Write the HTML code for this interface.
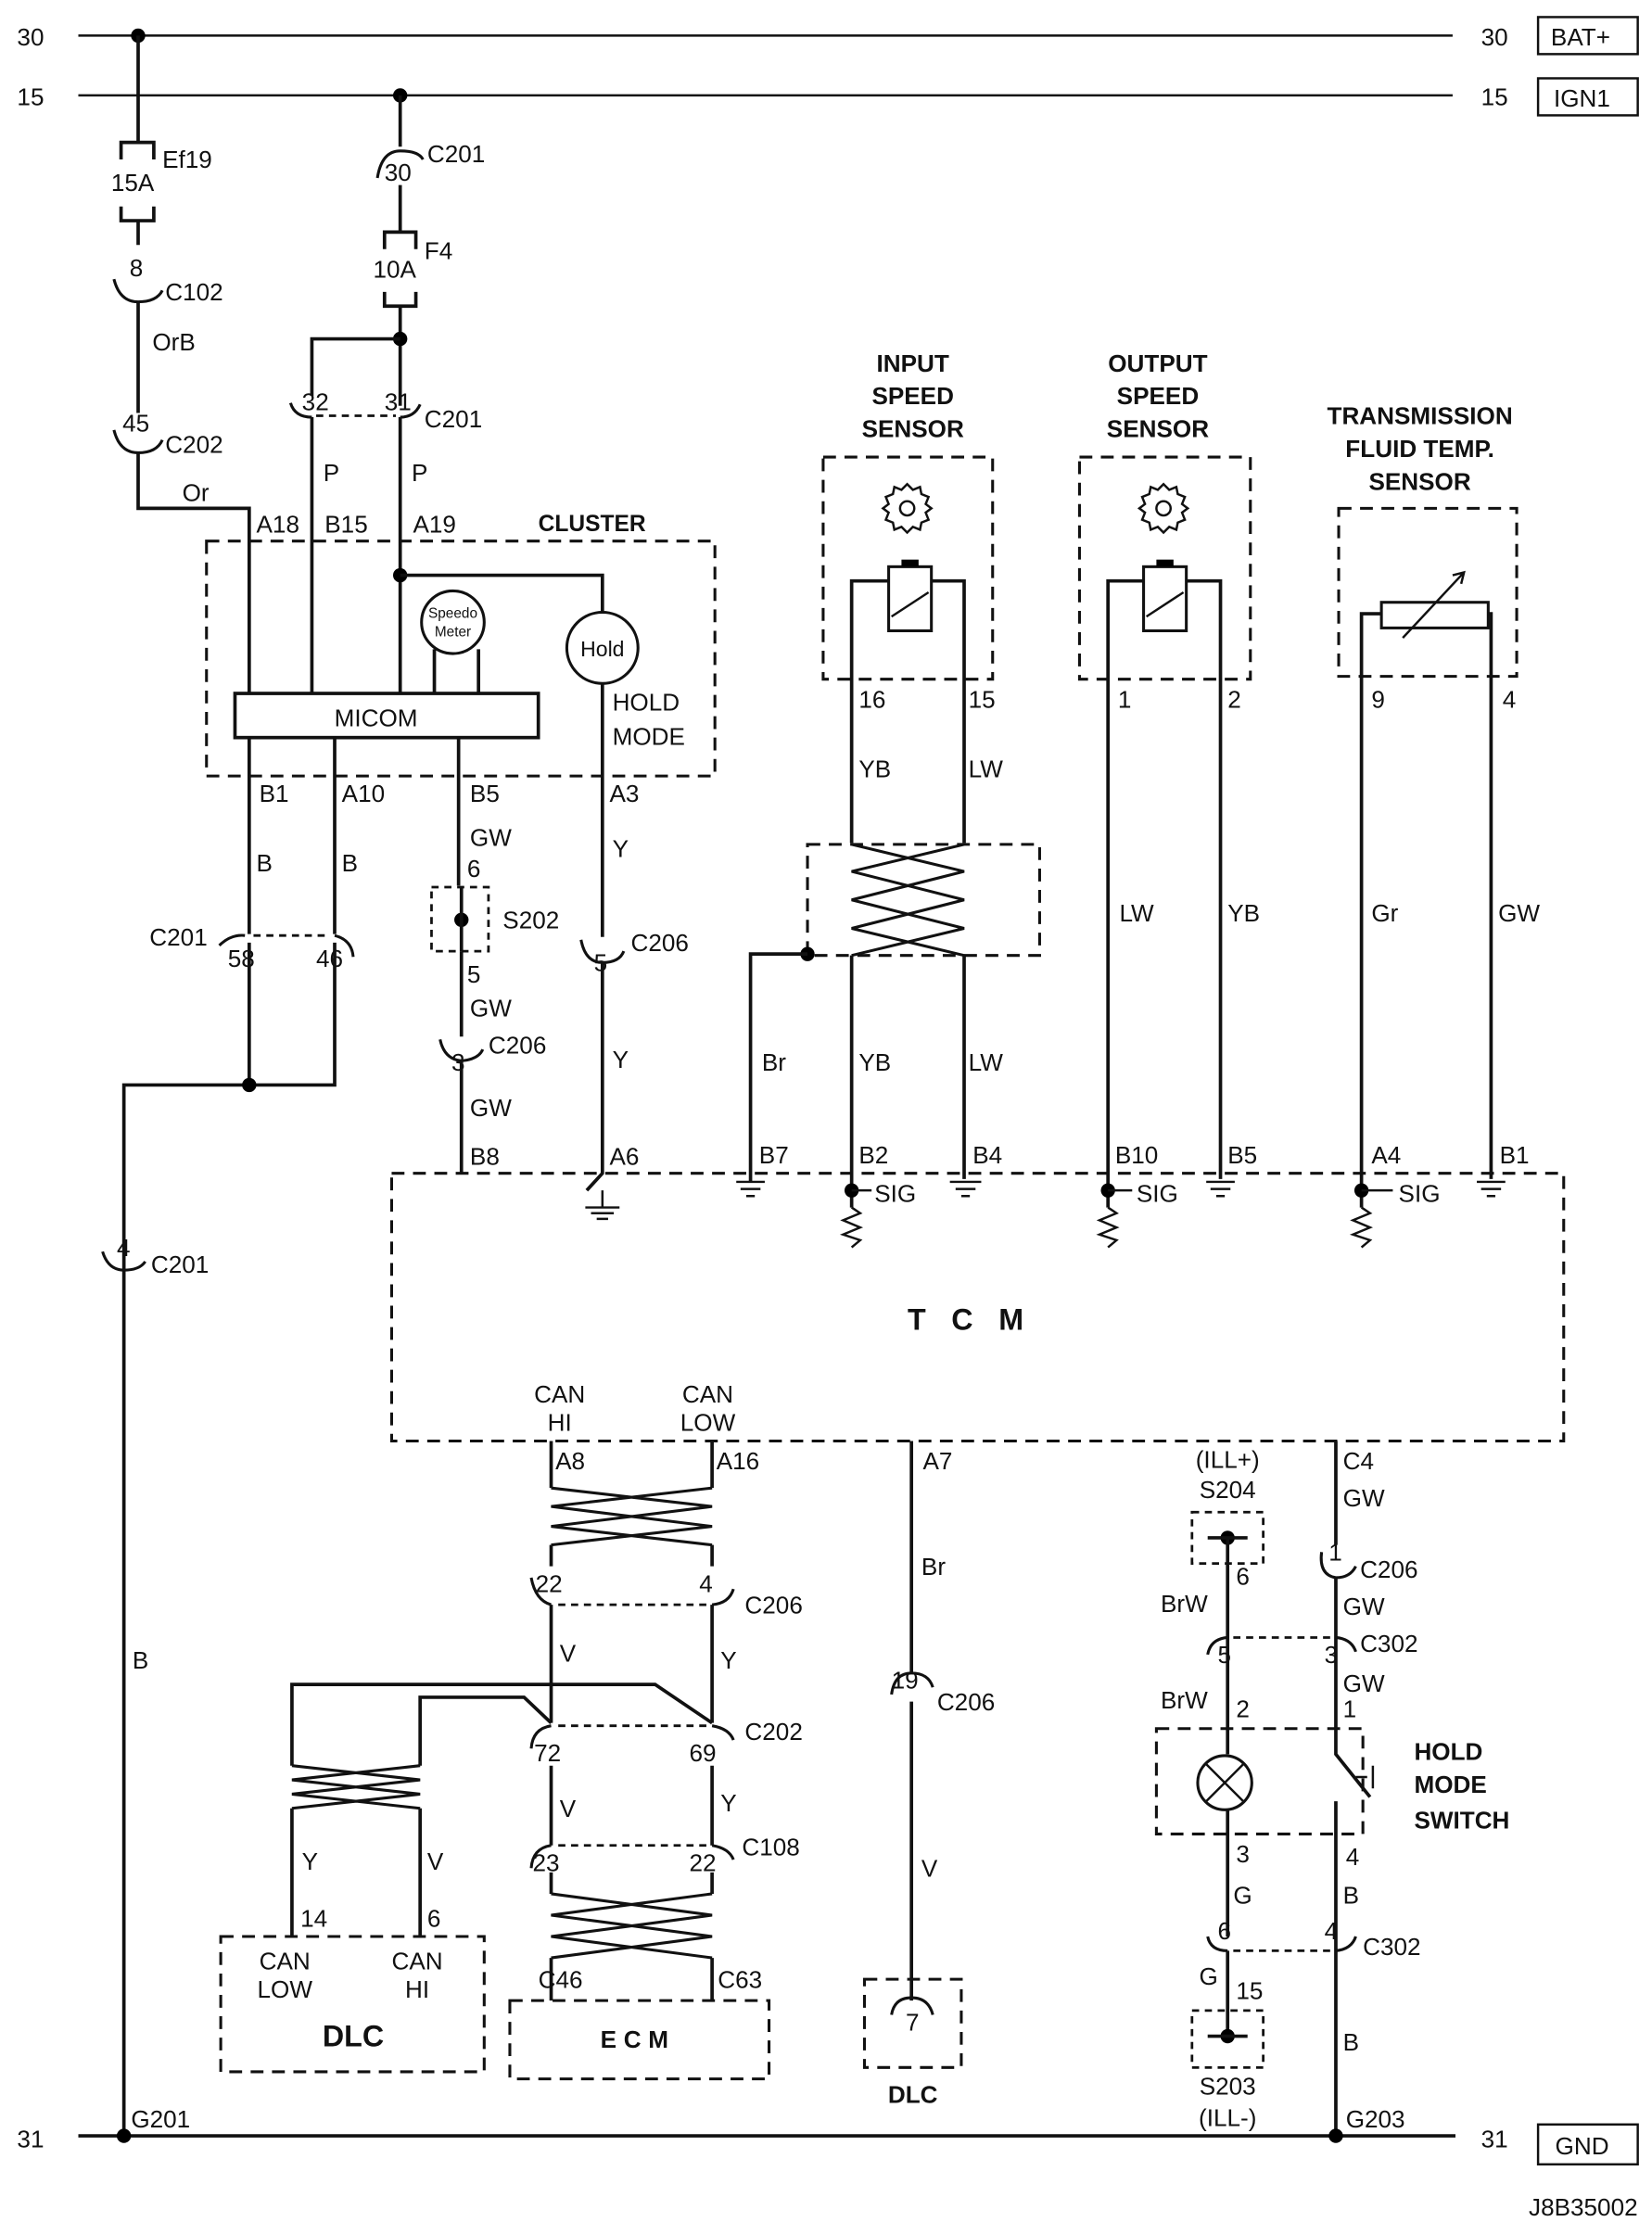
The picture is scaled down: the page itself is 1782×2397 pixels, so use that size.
<!DOCTYPE html>
<html><head><meta charset="utf-8"><style>
html,body{margin:0;padding:0;background:#fff}
svg{display:block}
text{font-family:"Liberation Sans",Arial,sans-serif;font-size:17px;fill:#111}
.b{font-weight:bold}
.w{stroke:#111;stroke-width:2.4;fill:none}
.t{stroke:#111;stroke-width:1.6;fill:none}
.d{stroke:#111;stroke-width:2;fill:none;stroke-dasharray:9 6}
.dd{stroke:#111;stroke-width:1.8;fill:none;stroke-dasharray:5 4}
.c{stroke:#111;stroke-width:2;fill:none}
</style></head><body>
<svg width="1782" height="2397" viewBox="0 0 1160 1560.5" preserveAspectRatio="none" xmlns="http://www.w3.org/2000/svg">
<defs>
<g id="gear"><path class="t" d="M0 -17L4 -13L9 -15L10 -10L15 -8L13 -3L17 0L13 3L15 8L10 10L9 15L4 13L0 17L-4 13L-9 15L-10 10L-15 8L-13 3L-17 0L-13 -3L-15 -8L-10 -10L-9 -15L-4 -13Z"/><circle r="5" class="t"/></g>
</defs>
<!-- buses -->
<text x="12" y="32">30</text><line class="t" x1="55" y1="25" x2="1020" y2="25"/><text x="1040" y="32">30</text>
<rect x="1080" y="12" width="70" height="26" class="t"/><text x="1089" y="32">BAT+</text>
<text x="12" y="74">15</text><line class="t" x1="55" y1="67" x2="1020" y2="67"/><text x="1040" y="74">15</text>
<rect x="1080" y="55" width="70" height="26" class="t"/><text x="1091" y="75">IGN1</text>
<text x="12" y="1508">31</text><line class="w" x1="55" y1="1500" x2="1022" y2="1500"/><text x="1040" y="1508">31</text>
<rect x="1080" y="1492" width="70" height="28" class="t"/><text x="1092" y="1513">GND</text>
<text x="1150" y="1556" text-anchor="end">J8B35002</text>

<!-- Ef19 branch -->
<circle cx="97" cy="25" r="5"/>
<path class="w" d="M97 25V100M85 112V100H108V112M85 145V155H108V145M97 155V172"/>
<text x="78" y="134">15A</text><text x="114" y="118">Ef19</text>
<text x="91" y="194">8</text><path class="c" d="M80 196Q84 212 97 212Q110 212 114 204"/><text x="116" y="211">C102</text>
<path class="w" d="M97 212V290"/><text x="107" y="246">OrB</text>
<text x="86" y="303">45</text><path class="c" d="M80 302Q84 318 97 318Q110 318 114 309"/><text x="116" y="318">C202</text>
<path class="w" d="M97 318V357H175V487"/><text x="128" y="352">Or</text>

<!-- F4 branch -->
<circle cx="281" cy="67" r="5"/>
<path class="w" d="M281 67V103"/>
<path class="c" d="M265 125Q268 106 281 106Q294 106 297 112"/><text x="270" y="127">30</text><text x="300" y="114">C201</text>
<path class="w" d="M281 130V163M270 175V163H292V175M270 205V215H292V205M281 215V285"/>
<text x="262" y="195">10A</text><text x="298" y="182">F4</text>
<circle cx="281" cy="238" r="5"/><path class="w" d="M281 238H219V278"/>
<path class="c" d="M204 283Q207 293 219 293M281 293Q291 293 295 284"/><line class="dd" x1="222" y1="292" x2="278" y2="292"/>
<text x="212" y="288">32</text><text x="270" y="288">31</text><text x="298" y="300">C201</text>
<path class="w" d="M219 293V487M281 293V487"/>
<text x="227" y="338">P</text><text x="289" y="338">P</text>
<text x="180" y="374">A18</text><text x="228" y="374">B15</text><text x="290" y="374">A19</text>
<text x="378" y="373" class="b" style="font-size:16px">CLUSTER</text>

<!-- cluster -->
<rect x="145" y="380" width="357" height="165" class="d"/>
<circle cx="281" cy="404" r="5"/><path class="w" d="M281 404H423V430"/>
<circle cx="318" cy="437" r="22" class="c"/><text x="318" y="434" text-anchor="middle" style="font-size:10px">Speedo</text><text x="318" y="447" text-anchor="middle" style="font-size:10px">Meter</text>
<path class="w" d="M305 456V487M336 456V487"/>
<circle cx="423" cy="455" r="25" class="c"/><text x="423" y="461" text-anchor="middle" style="font-size:15px">Hold</text>
<rect x="165" y="487" width="213" height="31" class="w" fill="#fff"/><text x="264" y="510" text-anchor="middle">MICOM</text>
<text x="430" y="499">HOLD</text><text x="430" y="523">MODE</text>
<path class="w" d="M175 518V656M235 518V656M322 518V622M423 480V658"/>
<text x="182" y="563">B1</text><text x="240" y="563">A10</text><text x="330" y="563">B5</text><text x="428" y="563">A3</text>
<text x="180" y="612">B</text><text x="240" y="612">B</text>
<text x="330" y="594">GW</text><text x="430" y="602">Y</text>
<!-- C201 58/46 -->
<path class="c" d="M154 664Q162 656 172 657M235 657Q247 660 248 672"/><line class="dd" x1="178" y1="657" x2="232" y2="657"/>
<text x="105" y="664">C201</text><text x="160" y="679">58</text><text x="222" y="679">46</text>
<path class="w" d="M175 662V762M235 662V762H87V1500"/><circle cx="175" cy="762" r="5"/>
<path class="c" d="M72 879Q76 892 87 892Q98 892 102 886"/><text x="82" y="882">4</text><text x="106" y="894">C201</text>
<text x="93" y="1172">B</text><text x="92" y="1494">G201</text><circle cx="87" cy="1500" r="5"/>
<!-- S202 -->
<text x="328" y="616">6</text><rect x="303" y="623" width="40" height="45" class="dd"/><circle cx="324" cy="646" r="5"/>
<path class="w" d="M324 623V668"/><text x="353" y="652">S202</text><text x="328" y="690">5</text>
<path class="w" d="M324 668V728"/><text x="330" y="714">GW</text>
<path class="c" d="M309 730Q312 744 324 745Q336 744 339 737"/><text x="317" y="752">3</text><text x="343" y="740">C206</text>
<path class="w" d="M324 745V824"/><text x="330" y="784">GW</text><text x="330" y="818">B8</text>
<!-- A3/C206 5 -->
<path class="c" d="M408 660Q411 676 423 676Q435 676 438 668"/><text x="417" y="682">5</text><text x="443" y="668">C206</text>
<path class="w" d="M423 676V824L412 836"/><text x="430" y="750">Y</text><text x="428" y="818">A6</text>
<path class="t" d="M423 836V848M411 848H435M415 852H431M419 856H427"/>

<!-- TCM -->
<rect x="275" y="824" width="823" height="188" class="d"/>
<text x="687" y="934" text-anchor="middle" class="b" style="font-size:21px;letter-spacing:18px">TCM</text>

<!-- input speed sensor -->
<text x="641" y="261" text-anchor="middle" class="b">INPUT</text><text x="641" y="284" text-anchor="middle" class="b">SPEED</text><text x="641" y="307" text-anchor="middle" class="b">SENSOR</text>
<rect x="578" y="321" width="119" height="156" class="d"/>
<use href="#gear" x="637" y="357"/>
<rect x="624" y="398" width="30" height="45" class="c"/><rect x="633" y="393" width="12" height="5"/><path class="t" d="M626 433L652 416"/>
<path class="w" d="M624 408H598V592M654 408H677V592"/>
<text x="603" y="497">16</text><text x="680" y="497">15</text><text x="603" y="546">YB</text><text x="680" y="546">LW</text>
<rect x="567" y="593" width="163" height="78" class="d"/>
<path class="c" d="M598 593L677 612L598 632L677 652L598 671M677 593L598 612L677 632L598 652L677 671"/>
<circle cx="567" cy="670" r="5"/><path class="w" d="M567 670H527V830M598 671V848M677 671V828"/>
<text x="535" y="752">Br</text><text x="603" y="752">YB</text><text x="680" y="752">LW</text>
<text x="533" y="817">B7</text><text x="603" y="817">B2</text><text x="683" y="817">B4</text>
<path class="t" d="M517 830H537M520 835H534M524 840H530M667 830H689M671 835H685M675 840H681"/>
<circle cx="598" cy="836" r="5"/><path class="t" d="M598 836H612M598 848L604 852L592 857L604 862L592 867L604 871L598 876"/><text x="614" y="844">SIG</text>
<!-- output speed sensor -->
<text x="813" y="261" text-anchor="middle" class="b">OUTPUT</text><text x="813" y="284" text-anchor="middle" class="b">SPEED</text><text x="813" y="307" text-anchor="middle" class="b">SENSOR</text>
<rect x="758" y="321" width="120" height="156" class="d"/>
<use href="#gear" x="817" y="357"/>
<rect x="803" y="398" width="30" height="45" class="c"/><rect x="812" y="393" width="12" height="5"/><path class="t" d="M805 433L831 416"/>
<path class="w" d="M803 408H778V848M833 408H857V828"/>
<text x="785" y="497">1</text><text x="862" y="497">2</text><text x="786" y="647">LW</text><text x="862" y="647">YB</text>
<text x="783" y="817">B10</text><text x="862" y="817">B5</text>
<path class="t" d="M847 830H867M850 835H864M854 840H860"/>
<circle cx="778" cy="836" r="5"/><path class="t" d="M778 836H795M778 848L784 852L772 857L784 862L772 867L784 871L778 876"/><text x="798" y="844">SIG</text>
<!-- TFT sensor -->
<text x="997" y="298" text-anchor="middle" class="b">TRANSMISSION</text><text x="997" y="321" text-anchor="middle" class="b">FLUID TEMP.</text><text x="997" y="344" text-anchor="middle" class="b">SENSOR</text>
<rect x="940" y="357" width="125" height="118" class="d"/>
<rect x="970" y="423" width="75" height="18" class="c"/><path class="t" d="M985 448L1027 403M1020 404L1028 402L1026 410"/>
<path class="w" d="M970 431H956V848M1045 431H1047V828"/>
<text x="963" y="497">9</text><text x="1055" y="497">4</text><text x="963" y="647">Gr</text><text x="1052" y="647">GW</text>
<text x="963" y="817">A4</text><text x="1053" y="817">B1</text>
<path class="t" d="M1037 830H1057M1040 835H1054M1044 840H1050"/>
<circle cx="956" cy="836" r="5"/><path class="t" d="M956 836H978M956 848L962 852L950 857L962 862L950 867L962 871L956 876"/><text x="982" y="844">SIG</text>

<!-- CAN lines -->
<text x="393" y="985" text-anchor="middle">CAN</text><text x="393" y="1005" text-anchor="middle">HI</text>
<text x="497" y="985" text-anchor="middle">CAN</text><text x="497" y="1005" text-anchor="middle">LOW</text>
<text x="390" y="1032">A8</text><text x="503" y="1032">A16</text>
<path class="w" d="M387 1012V1045M500 1012V1045M387 1085V1100M500 1085V1100"/>
<path class="c" d="M387 1045L500 1058L387 1072L500 1085M500 1045L387 1058L500 1072L387 1085"/>
<path class="c" d="M373 1108Q376 1124 387 1127M500 1127Q512 1126 515 1116"/><line class="dd" x1="392" y1="1127" x2="496" y2="1127"/>
<text x="376" y="1118">22</text><text x="491" y="1118">4</text><text x="523" y="1133">C206</text>
<path class="w" d="M387 1127V1210M500 1127V1210"/><text x="393" y="1167">V</text><text x="506" y="1172">Y</text>
<path class="w" d="M205 1240V1183H460L500 1210M295 1240V1192H368L387 1210"/>
<path class="c" d="M373 1228Q374 1214 387 1212M500 1212Q512 1214 515 1222"/><line class="dd" x1="392" y1="1212" x2="496" y2="1212"/>
<text x="375" y="1237">72</text><text x="484" y="1237">69</text><text x="523" y="1222">C202</text>
<path class="w" d="M387 1240V1296M500 1240V1296"/><text x="393" y="1276">V</text><text x="506" y="1272">Y</text>
<path class="c" d="M205 1240L295 1250L205 1260L295 1270M295 1240L205 1250L295 1260L205 1270"/>
<path class="w" d="M205 1270V1360M295 1270V1360"/>
<text x="212" y="1313">Y</text><text x="300" y="1313">V</text><text x="211" y="1353">14</text><text x="300" y="1353">6</text>
<rect x="155" y="1360" width="185" height="95" class="d"/>
<text x="200" y="1383" text-anchor="middle">CAN</text><text x="200" y="1403" text-anchor="middle">LOW</text>
<text x="293" y="1383" text-anchor="middle">CAN</text><text x="293" y="1403" text-anchor="middle">HI</text>
<text x="248" y="1437" text-anchor="middle" class="b" style="font-size:21px">DLC</text>
<path class="c" d="M373 1312Q374 1298 387 1296M500 1296Q512 1298 515 1306"/><line class="dd" x1="392" y1="1296" x2="496" y2="1296"/>
<text x="374" y="1314">23</text><text x="484" y="1314">22</text><text x="521" y="1303">C108</text>
<path class="w" d="M387 1315V1330M500 1315V1330M387 1375V1405M500 1375V1405"/>
<path class="c" d="M387 1330L500 1345L387 1360L500 1375M500 1330L387 1345L500 1360L387 1375"/>
<text x="378" y="1396">C46</text><text x="504" y="1396">C63</text>
<rect x="358" y="1405" width="182" height="55" class="d"/>
<text x="448" y="1438" text-anchor="middle" class="b" style="letter-spacing:5px">ECM</text>

<!-- A7 -->
<path class="w" d="M640 1012V1175M640 1195V1405"/><text x="648" y="1032">A7</text><text x="647" y="1106">Br</text>
<path class="c" d="M626 1190Q628 1175 640 1175Q652 1175 655 1185"/><text x="626" y="1186">19</text><text x="658" y="1201">C206</text>
<text x="647" y="1318">V</text>
<rect x="607" y="1390" width="68" height="62" class="d"/>
<path class="c" d="M626 1415Q628 1403 640 1403Q652 1403 655 1415"/><text x="636" y="1426">7</text>
<text x="641" y="1477" text-anchor="middle" class="b">DLC</text>

<!-- right side -->
<text x="862" y="1031" text-anchor="middle">(ILL+)</text><text x="862" y="1052" text-anchor="middle">S204</text>
<rect x="837" y="1062" width="50" height="36" class="dd"/><circle cx="862" cy="1080" r="5"/>
<path class="w" d="M848 1080H876M862 1080V1232"/>
<text x="868" y="1113">6</text><text x="815" y="1132">BrW</text>
<path class="c" d="M848 1162Q850 1151 862 1150M938 1150Q949 1151 952 1160"/><line class="dd" x1="866" y1="1150" x2="934" y2="1150"/>
<text x="855" y="1168">5</text><text x="930" y="1168">3</text><text x="955" y="1160">C302</text>
<text x="815" y="1200">BrW</text><text x="868" y="1206">2</text>
<rect x="812" y="1214" width="145" height="74" class="d"/>
<circle cx="860" cy="1252" r="19" class="c"/><path class="t" d="M847 1239L873 1265M873 1239L847 1265"/>
<path class="w" d="M862 1271V1360M862 1370V1430"/>
<text x="868" y="1308">3</text><text x="866" y="1337">G</text>
<path class="c" d="M848 1360Q850 1370 862 1370M938 1370Q949 1369 952 1360"/><line class="dd" x1="866" y1="1370" x2="934" y2="1370"/>
<text x="855" y="1362">6</text><text x="930" y="1362">4</text><text x="957" y="1373">C302</text>
<text x="842" y="1394">G</text><text x="868" y="1404">15</text>
<rect x="837" y="1412" width="50" height="40" class="dd"/><circle cx="862" cy="1430" r="5"/><path class="w" d="M848 1430H876"/>
<text x="862" y="1471" text-anchor="middle">S203</text><text x="862" y="1493" text-anchor="middle">(ILL-)</text>
<path class="w" d="M938 1012V1085M938 1108V1232L962 1262M938 1265V1500"/>
<path class="c" d="M928 1090Q926 1106 938 1108Q948 1108 952 1100"/>
<text x="933" y="1096">1</text><text x="955" y="1108">C206</text>
<text x="943" y="1032">C4</text><text x="943" y="1058">GW</text><text x="943" y="1134">GW</text>
<text x="943" y="1188">GW</text><text x="943" y="1206">1</text>
<path class="t" d="M952 1248H960M964 1240V1256"/>
<text x="945" y="1310">4</text><text x="943" y="1337">B</text><text x="943" y="1440">B</text>
<text x="945" y="1494">G203</text><circle cx="938" cy="1500" r="5"/>
<text x="993" y="1236" class="b">HOLD</text><text x="993" y="1259" class="b">MODE</text><text x="993" y="1284" class="b">SWITCH</text>
</svg>
</body></html>
